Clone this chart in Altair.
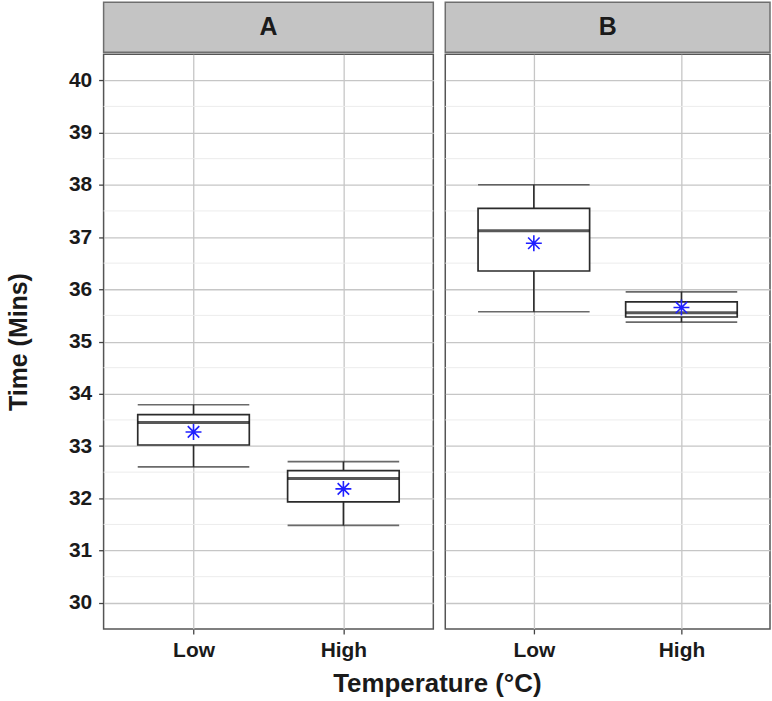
import altair as alt
import pandas as pd

# ---- data ----
panels = ["A", "A", "B", "B"]
temps = ["Low", "High", "Low", "High"]
lower = [32.60, 31.48, 35.57, 35.37]
q1 = [33.02, 31.93, 36.35, 35.47]
median = [33.45, 32.38, 37.12, 35.55]
q3 = [33.60, 32.53, 37.55, 35.76]
upper = [33.79, 32.70, 38.00, 35.95]
means = [33.27, 32.18, 36.88, 35.65]

temp_order = ["Low", "High"]
y_ticks = [30, 31, 32, 33, 34, 35, 36, 37, 38, 39, 40]
minor_ticks = [30.5, 31.5, 32.5, 33.5, 34.5, 35.5, 36.5, 37.5, 38.5, 39.5]

df = pd.DataFrame({
    "panel": panels, "temp": temps, "lower": lower, "q1": q1,
    "median": median, "q3": q3, "upper": upper, "mean": means,
})
minor_df = pd.DataFrame({"v": minor_ticks})

FONT = "Liberation Sans"
TXT = "#1a1a1a"
LINE = "#2b2b2b"
BOXW = 112

yscale = alt.Scale(domain=[29.5, 40.5], nice=False, zero=False)
xscale = alt.Scale(type="point", domain=temp_order, padding=0.6)

ASTERISK = ("M-1,0L1,0M0,-1L0,1M-0.72,-0.72L0.72,0.72M-0.72,0.72L0.72,-0.72")


def make_panel(p, width, show_y):
    d = df[df.panel == p]
    if show_y:
        yaxis = alt.Axis(values=y_ticks, title="Time (Mins)", grid=True,
                         gridColor="#c6c6c6", gridWidth=1.3, domain=False,
                         tickSize=5, tickColor="#444", tickWidth=1.3,
                         labelPadding=7, titlePadding=37,
                         titleFontSize=25)
    else:
        yaxis = alt.Axis(values=y_ticks, title=None, grid=True,
                         gridColor="#c6c6c6", gridWidth=1.3, domain=False,
                         labels=False, ticks=False)
    xaxis = alt.Axis(title=None, grid=True, gridColor="#c6c6c6", gridWidth=1.3,
                     domain=False, tickSize=5, tickColor="#444", tickWidth=1.3,
                     labelPadding=6, labelAngle=0)

    def Y(f):
        return alt.Y(f"{f}:Q", scale=yscale, axis=yaxis)

    X = alt.X("temp:N", scale=xscale, axis=xaxis, sort=temp_order)

    minor = alt.Chart(minor_df).mark_rule(color="#ececec", strokeWidth=1).encode(y=Y("v"))
    base = alt.Chart(d)
    w_lo = base.mark_rule(color=LINE, strokeWidth=1.6).encode(x=X, y=Y("lower"), y2="q1:Q")
    w_hi = base.mark_rule(color=LINE, strokeWidth=1.6).encode(x=X, y=Y("q3"), y2="upper:Q")
    cap_lo = base.mark_tick(color=LINE, size=BOXW, thickness=1.7, orient="horizontal").encode(x=X, y=Y("lower"))
    cap_hi = base.mark_tick(color=LINE, size=BOXW, thickness=1.7, orient="horizontal").encode(x=X, y=Y("upper"))
    box = base.mark_bar(size=BOXW, fill="white", stroke=LINE, strokeWidth=1.7).encode(x=X, y=Y("q1"), y2="q3:Q")
    med = base.mark_tick(color="#111", size=BOXW, thickness=3, orient="horizontal").encode(x=X, y=Y("median"))
    mean = base.mark_point(shape=ASTERISK, size=256, filled=False, stroke="#1f1fff",
                           strokeWidth=1.6, opacity=1).encode(x=X, y=Y("mean"))

    plot = alt.layer(minor, w_lo, w_hi, cap_lo, cap_hi, box, med, mean).properties(
        width=width, height=577,
        view=alt.ViewBackground(fill="white", stroke="#555555", strokeWidth=1.5),
    )
    header = alt.Chart(pd.DataFrame({"panel": [p]})).mark_text(
        font=FONT, fontSize=25, fontWeight="bold", color=TXT, baseline="middle"
    ).encode(text="panel:N").properties(
        width=width, height=50,
        view=alt.ViewBackground(fill="#c4c4c4", stroke="#6e6e6e", strokeWidth=1.5),
    )
    return alt.vconcat(header, plot, spacing=0)


chart = alt.hconcat(
    make_panel("A", 331, True),
    make_panel("B", 326, False),
    spacing=8,
).properties(
    title=alt.TitleParams("Temperature (°C)", orient="bottom", anchor="middle",
                          fontSize=26, font=FONT, fontWeight="bold", color=TXT,
                          offset=10, dx=49),
    padding={"left": 5, "top": 0, "right": 0, "bottom": 0},
).configure_axis(
    labelFont=FONT, labelFontSize=21, labelFontWeight="bold", labelColor=TXT,
    titleFont=FONT, titleFontWeight="bold", titleColor=TXT,
).configure_view(stroke="#555555")

chart.save("out.html", embed_options={"renderer": "svg", "actions": False})
